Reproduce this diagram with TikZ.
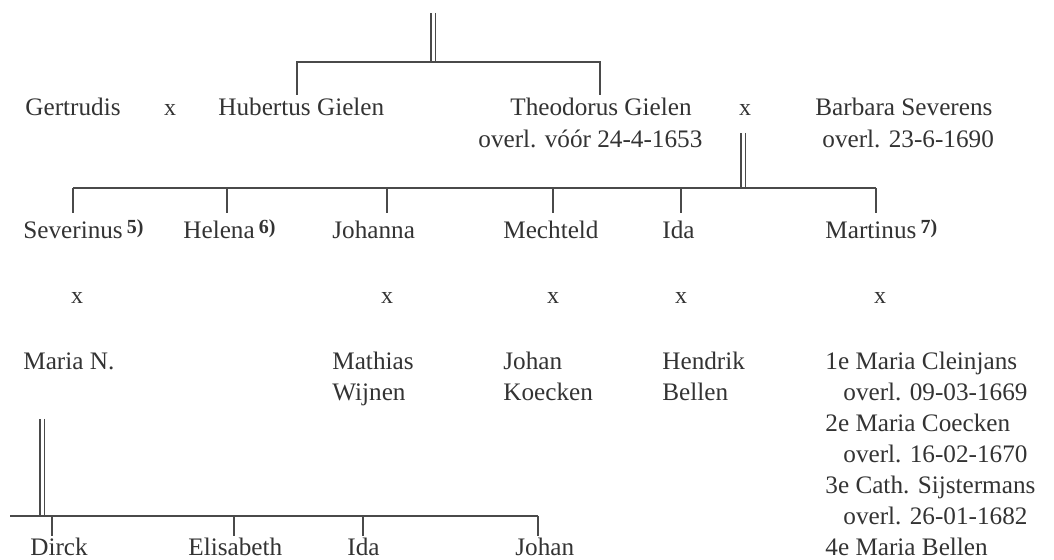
\documentclass[tikz,border=0pt]{standalone}
\usepackage{fontspec}
\setmainfont{Liberation Serif}
\definecolor{ink}{HTML}{333333}
\definecolor{rulec}{HTML}{4A4A4A}
\newcommand{\fnref}[1]{\,\raisebox{0.5ex}{\fontsize{10}{12}\selectfont\bfseries #1}}
\begin{document}
\begin{tikzpicture}[x=0.5pt,y=-0.5pt,
  lbl/.style={anchor=base west, inner sep=0pt, text=ink, font=\fontsize{12.6}{15}\selectfont},
  xmk/.style={anchor=base, inner sep=0pt, text=ink, font=\fontsize{12}{14}\selectfont},
  ln/.style={draw=rulec, line width=0.7pt},
  dbl/.style={draw=rulec, line width=0.55pt, double=white, double distance=1.5pt}]
\useasboundingbox (0,0) rectangle (1054,560);

% ---------- generation 1 ----------
\node[lbl] (gert)  at (25,116)  {Gertrudis};
\node[xmk] (xa)    at (170,116) {x};
\node[lbl] (hub)   at (218,116) {Hubertus Gielen};
\node[lbl] (theo)  at (510,116) {Theodorus Gielen};
\node[lbl] (theod) at (478,148) {overl. vóór 24-4-1653};
\node[xmk] (xb)    at (745,116) {x};
\node[lbl] (barb)  at (815,116) {Barbara Severens};
\node[lbl] (barbd) at (822,148) {overl. 23-6-1690};

% ---------- generation 2 ----------
\node[lbl] (sev)  at (23,239)  {Severinus\fnref{5)}};
\node[lbl] (hel)  at (183,239) {Helena\fnref{6)}};
\node[lbl] (joh)  at (332,239) {Johanna};
\node[lbl] (mec)  at (503,239) {Mechteld};
\node[lbl] (ida)  at (662,239) {Ida};
\node[lbl] (mar)  at (825,239) {Martinus\fnref{7)}};

\node[xmk] (xs) at (77,304)  {x};
\node[xmk] (xj) at (387,304) {x};
\node[xmk] (xm) at (553,304) {x};
\node[xmk] (xi) at (681,304) {x};
\node[xmk] (xt) at (880,304) {x};

\node[lbl] (marn) at (23,370)  {Maria N.};
\node[lbl] (math) at (332,370) {Mathias};
\node[lbl] (wijn) at (332,400.8) {Wijnen};
\node[lbl] (jkoe) at (503,370) {Johan};
\node[lbl] (koec) at (503,400.8) {Koecken};
\node[lbl] (hend) at (662,370) {Hendrik};
\node[lbl] (bell) at (662,400.8) {Bellen};

\node[lbl] (w1)  at (825,370)   {1e Maria Cleinjans};
\node[lbl] (w1d) at (843,400.8) {overl. 09-03-1669};
\node[lbl] (w2)  at (825,431.7) {2e Maria Coecken};
\node[lbl] (w2d) at (843,462.5) {overl. 16-02-1670};
\node[lbl] (w3)  at (825,493.3) {3e Cath. Sijstermans};
\node[lbl] (w3d) at (843,524.2) {overl. 26-01-1682};
\node[lbl] (w4)  at (825,555)   {4e Maria Bellen};

% ---------- generation 3 ----------
\node[lbl] (dir)  at (30,555)  {Dirck};
\node[lbl] (eli)  at (188,555) {Elisabeth};
\node[lbl] (ida2) at (347,555) {Ida};
\node[lbl] (joh2) at (515,555) {Johan};

% ---------- connectors ----------
% top family
\coordinate (t0) at (433,13);
\coordinate (t1) at (433,62);
\coordinate (h1l) at (297,62);
\coordinate (h1r) at (600,62);
\coordinate (d1l) at (297,95);
\coordinate (d1r) at (600,95);
\draw[dbl] (t0) -- (t1);
\draw[ln] (d1l) -- (h1l) -- (h1r) -- (d1r);

% Theodorus x Barbara
\coordinate (m0) at (743,133);
\coordinate (m1) at (743,188);
\coordinate (h2l) at (73,188);
\coordinate (h2r) at (876,188);
\draw[dbl] (m0) -- (m1);
\draw[ln] (h2l) -- (h2r);
\foreach \xx in {73,227,387,553,681,876}
  \draw[ln] (\xx,188) -- (\xx,213);

% Severinus x Maria N.
\coordinate (s0) at (42,419);
\coordinate (s1) at (42,516);
\coordinate (h3l) at (10,516);
\coordinate (h3r) at (538,516);
\draw[dbl] (s0) -- (s1);
\draw[ln] (h3l) -- (h3r);
\foreach \xx in {52,234,363,538}
  \draw[ln] (\xx,516) -- (\xx,536);
\end{tikzpicture}
\end{document}
